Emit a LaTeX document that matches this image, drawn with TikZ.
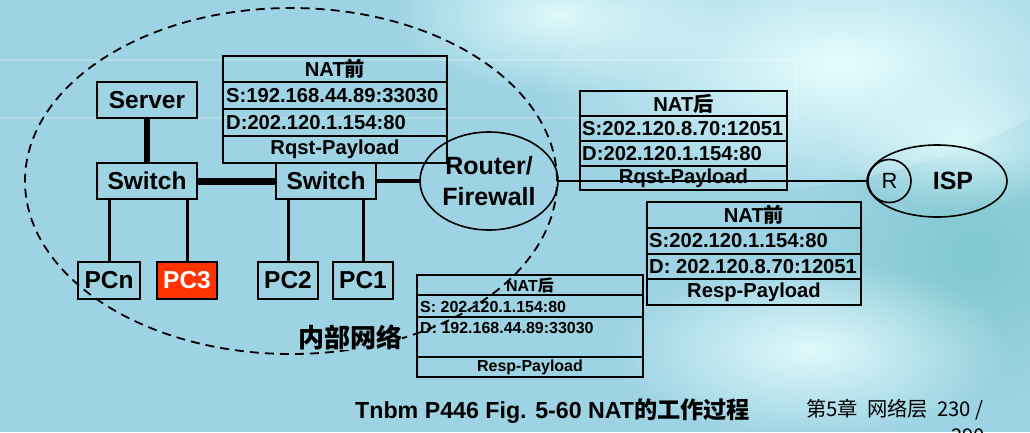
\documentclass[tikz,border=0pt]{standalone}
\usepackage{fontspec}
\setmainfont{Liberation Sans}
\newfontfamily\cjk{Noto Sans CJK SC}
\usetikzlibrary{shapes.geometric,fadings}

\definecolor{bgblue}{RGB}{157,211,227}
\definecolor{glow}{RGB}{230,253,254}
\definecolor{deepteal}{RGB}{128,200,206}
\definecolor{pcred}{RGB}{255,51,0}

\tikzfading[name=softspot, inner color=transparent!0, outer color=transparent!100]

\begin{document}
\begin{tikzpicture}[x=1pt,y=-1pt,
  dev/.style={draw=black, line width=1.6pt, rectangle, inner sep=0pt, outer sep=0pt,
    minimum height=36pt, font=\fontsize{24.5}{24.5}\selectfont\bfseries},
  pcbox/.style={dev, minimum width=60pt, minimum height=37pt},
  tbl/.style={draw=black, line width=1.4pt, rectangle, inner sep=0pt, outer sep=0pt},
  sep/.style={draw=black, line width=1.4pt},
  cell/.style={inner sep=0pt, font=\fontsize{20.2}{20}\selectfont\bfseries},
  smallcell/.style={inner sep=0pt, font=\fontsize{16}{16}\selectfont\bfseries},
  link/.style={draw=black, line width=3pt},
  thick link/.style={draw=black, line width=6.5pt},
  haze/.style={path fading=softspot},
]
\useasboundingbox (0,0) rectangle (1030,432);

% backdrop: blue ground with soft light patches
\fill[bgblue] (0,0) rectangle (1030,432);
\fill[deepteal, haze] (975,255) ellipse [x radius=170, y radius=150];
\fill[glow, haze, opacity=0.9] (560,15) ellipse [x radius=170, y radius=80];
\fill[glow, haze, rotate around={12:(840,50)}] (840,50) ellipse [x radius=300, y radius=130];
\fill[glow, haze, opacity=0.8] (960,140) ellipse [x radius=130, y radius=70];
\fill[glow, haze, opacity=0.9] (810,350) ellipse [x radius=200, y radius=90];
\draw[white, opacity=0.22, line width=2.5pt] (0,60) -- (796,60) -- (796,118) -- (0,118);

% packet before NAT, request
\node[tbl, minimum width=224pt, minimum height=107pt] (t1) at (335,109.5) {};
\draw[sep] (t1.west |- 0,82) -- (t1.east |- 0,82);
\draw[sep] (t1.west |- 0,109) -- (t1.east |- 0,109);
\draw[sep] (t1.west |- 0,136) -- (t1.east |- 0,136);
\node[cell] (t1h) at (335,69) {NAT{\cjk\bfseries 前}};
\node[cell, anchor=west] (t1s) at (226,95.5) {S:192.168.44.89:33030};
\node[cell, anchor=west] (t1d) at (226,122.5) {D:202.120.1.154:80};
\node[cell] (t1p) at (335,149.5) {Rqst-Payload};

% packet after NAT, request
\node[tbl, minimum width=207pt, minimum height=99pt] (t2) at (683.5,140.5) {};
\draw[sep] (t2.west |- 0,116) -- (t2.east |- 0,116);
\draw[sep] (t2.west |- 0,141) -- (t2.east |- 0,141);
\draw[sep] (t2.west |- 0,166) -- (t2.east |- 0,166);
\node[cell] (t2h) at (683.5,103.5) {NAT{\cjk\bfseries 后}};
\node[cell, anchor=west] (t2s) at (582,128.5) {S:202.120.8.70:12051};
\node[cell, anchor=west] (t2d) at (582,153.5) {D:202.120.1.154:80};
\node[cell] (t2p) at (683.5,178) {Rqst-Payload};

% packet before NAT, response
\node[tbl, minimum width=214pt, minimum height=103pt] (t3) at (754,253.5) {};
\draw[sep] (t3.west |- 0,228) -- (t3.east |- 0,228);
\draw[sep] (t3.west |- 0,254) -- (t3.east |- 0,254);
\draw[sep] (t3.west |- 0,279) -- (t3.east |- 0,279);
\node[cell] (t3h) at (754,215) {NAT{\cjk\bfseries 前}};
\node[cell, anchor=west] (t3s) at (649,241) {S:202.120.1.154:80};
\node[cell, anchor=west] (t3d) at (649,266.5) {D: 202.120.8.70:12051};
\node[cell] (t3p) at (754,292) {Resp-Payload};

% packet after NAT, response
\node[tbl, minimum width=226pt, minimum height=102pt] (t4) at (530,326) {};
\draw[sep] (t4.west |- 0,295) -- (t4.east |- 0,295);
\draw[sep] (t4.west |- 0,317) -- (t4.east |- 0,317);
\draw[sep] (t4.west |- 0,357) -- (t4.east |- 0,357);
\node[smallcell] (t4h) at (530,285.5) {NAT{\cjk\bfseries 后}};
\node[smallcell, anchor=west] (t4s) at (420,306.5) {S: 202.120.1.154:80};
\node[smallcell, anchor=west] (t4d) at (420,328) {D: 192.168.44.89:33030};
\node[smallcell] (t4p) at (530,367) {Resp-Payload};

% devices
\node[dev, minimum width=100pt] (srv) at (147,100) {Server};
\node[dev, minimum width=100pt] (swl) at (147,181) {Switch};
\node[dev, minimum width=100pt] (swr) at (326,181) {Switch};
\node[pcbox, minimum width=62pt] (pcn) at (109,280.5) {PCn};
\node[pcbox, fill=pcred, text=white] (pc3) at (187,280.5) {PC3};
\node[pcbox] (pc2) at (288,280.5) {PC2};
\node[pcbox] (pc1) at (363,280.5) {PC1};
\node[draw=black, line width=1.6pt, ellipse, inner sep=0pt, outer sep=0pt,
  minimum width=138pt, minimum height=98pt, align=center,
  font=\fontsize{25}{31}\selectfont\bfseries] (rtr) at (489,181) {Router/\\Firewall};
\node[draw=black, line width=1.6pt, ellipse, inner sep=0pt, outer sep=0pt,
  minimum width=140pt, minimum height=72pt] (isp) at (937,181) {};
\node[font=\fontsize{25}{25}\selectfont\bfseries, inner sep=0pt] (ispl) at (953,181) {ISP};
\node[draw=black, line width=1.6pt, circle, inner sep=0pt, outer sep=0pt,
  minimum size=43pt, font=\fontsize{22}{22}\selectfont] (rc) at (889.5,181) {R};

% links
\draw[thick link] (srv) -- (swl);
\draw[draw=black, line width=7pt] (swl) -- (swr);
\draw[link] (swl.south -| pcn) -- (pcn.north);
\draw[link] (swl.south -| pc3) -- (pc3.north);
\draw[link] (swr.south -| pc2) -- (pc2.north);
\draw[link] (swr.south -| pc1) -- (pc1.north);
\draw[draw=black, line width=3.5pt] (swr.east) -- (rtr.west);
\draw[draw=black, line width=2pt] (rtr.east) -- (rc.west);

% internal network boundary
\node[draw=black, line width=1.8pt, dash pattern=on 9pt off 6pt, ellipse,
  inner sep=0pt, minimum width=532pt, minimum height=346pt] (lan) at (291,181) {};
\node[fill=bgblue, inner sep=0pt, font=\cjk\bfseries\fontsize{26}{26}\selectfont] (lanl) at (350,337) {内部网络};

% caption and page footer
\node[anchor=base west, inner sep=0pt, font=\fontsize{23.2}{23}\selectfont\bfseries] (cap) at (355,418)
  {Tnbm P446 Fig. 5-60 NAT{\cjk\bfseries 的工作过程}};
\node[anchor=base west, inner sep=0pt, font=\cjk\fontsize{20.3}{20}\selectfont] (pg) at (806,416)
  {第5章\ \ 网络层\ \ 230 /};
\node[anchor=base west, inner sep=0pt, font=\cjk\fontsize{20.3}{20}\selectfont] (pg2) at (951,443) {290};
\end{tikzpicture}
\end{document}
